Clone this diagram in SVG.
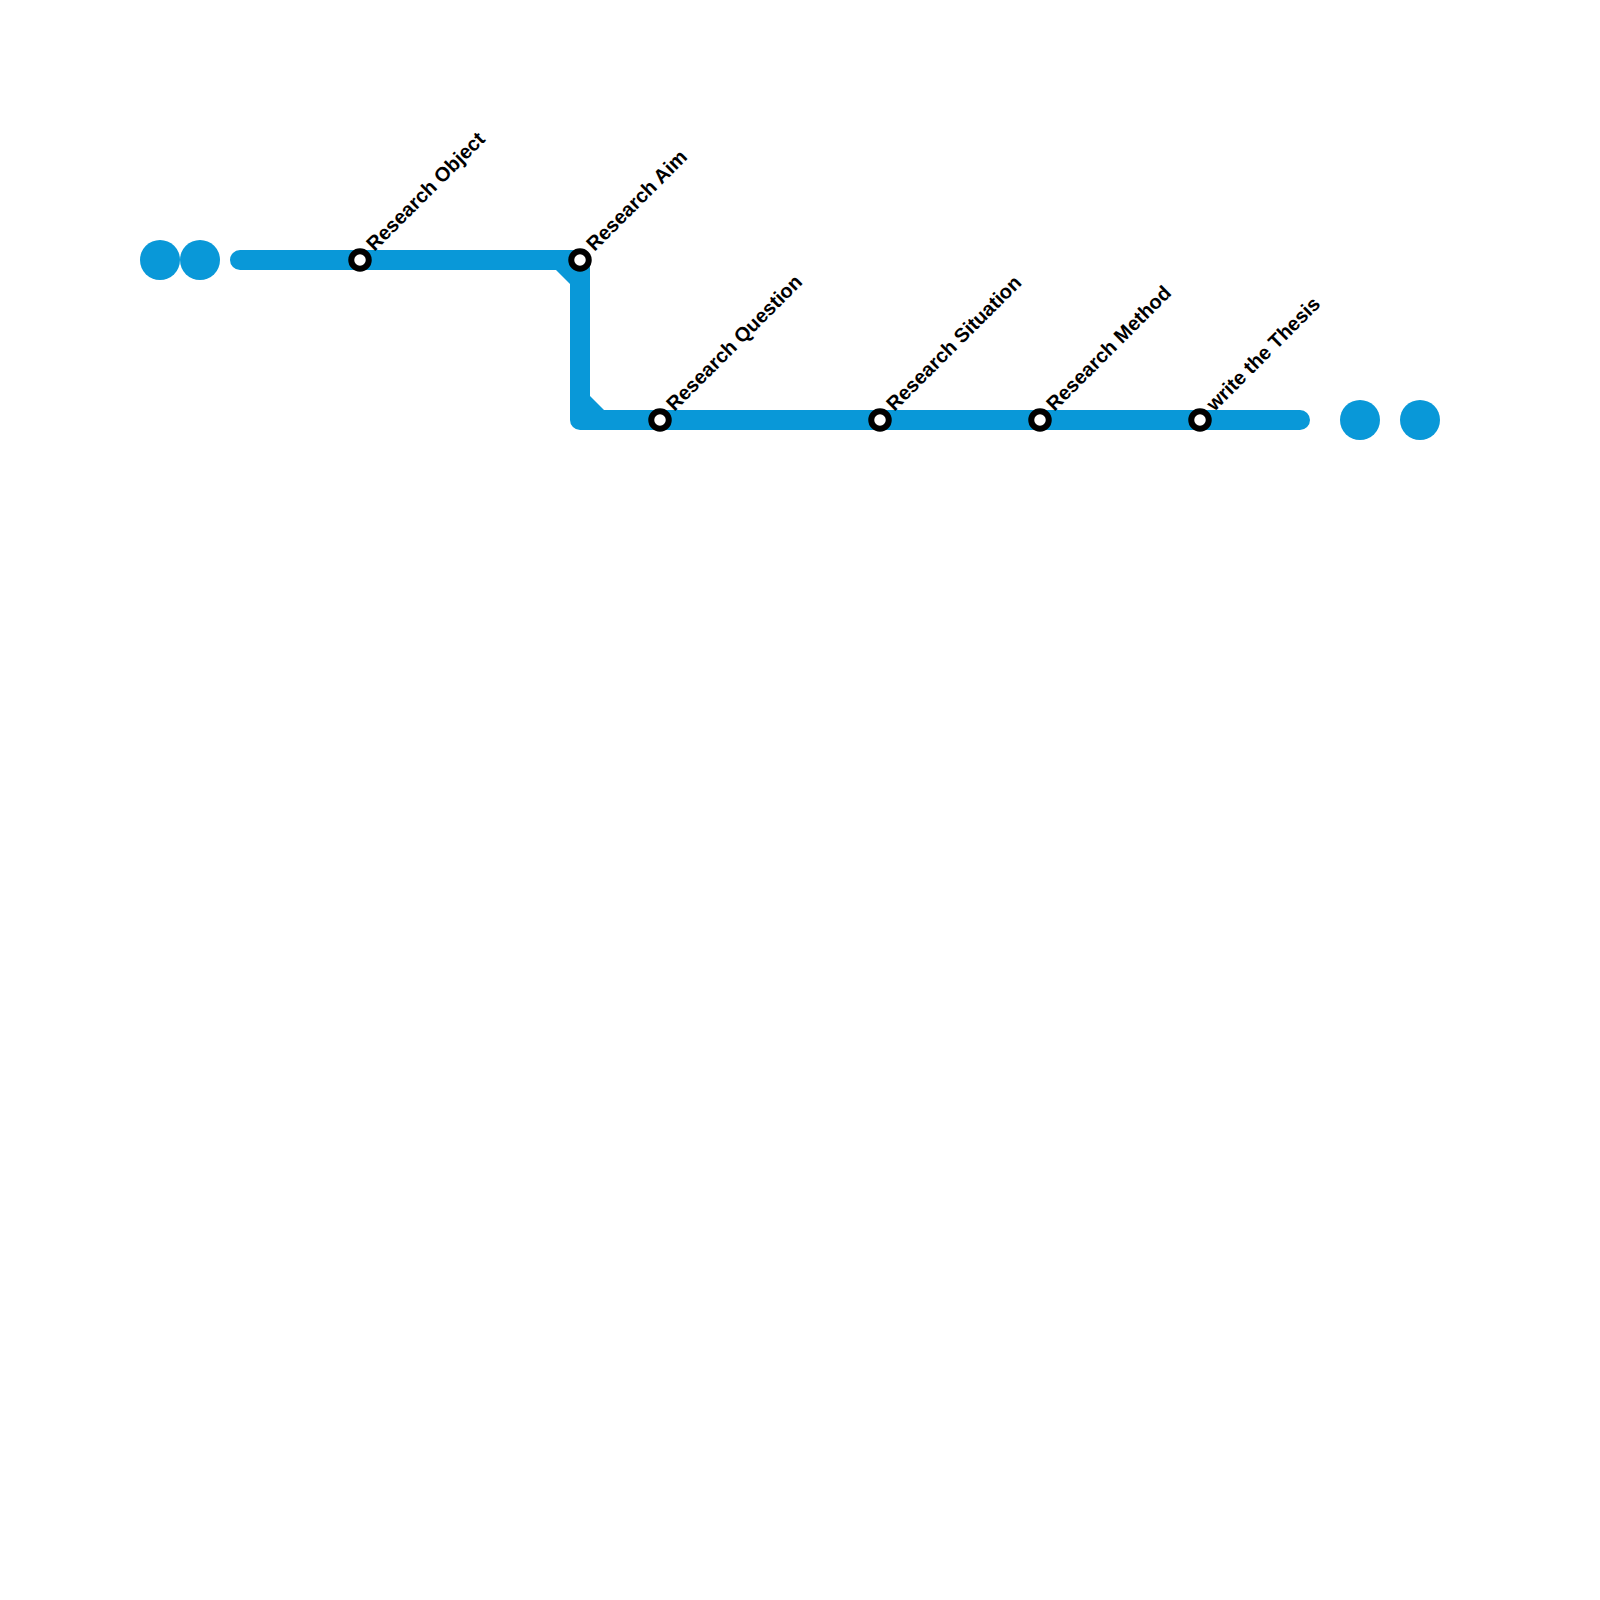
<svg xmlns="http://www.w3.org/2000/svg" width="1600" height="1600" viewBox="0 0 1600 1600">
<style>
.line{fill:none;stroke:#0998d8;stroke-width:20;stroke-linecap:round;stroke-linejoin:round}
.fillet{fill:#0998d8}
.term{fill:#0998d8}
.stn{fill:#fff;stroke:#000;stroke-width:6}
.lbl{font-family:"Liberation Sans",Arial,sans-serif;font-weight:bold;font-size:20px;fill:#000}
</style>
<rect width="1600" height="1600" fill="#fff"/>
<g id="connectors">
<path class="line" d="M240 260H580V420H1300"/>
<polygon class="fillet" points="556,270 570,270 570,284"/>
<polygon class="fillet" points="590,396 590,410 604,410"/>
</g>
<g id="start-dot-1"><circle class="term" cx="160" cy="260" r="20"/></g>
<g id="start-dot-2"><circle class="term" cx="200" cy="260" r="20"/></g>
<g id="end-dot-1"><circle class="term" cx="1360" cy="420" r="20"/></g>
<g id="end-dot-2"><circle class="term" cx="1420" cy="420" r="20"/></g>
<g id="research-object"><circle class="stn" cx="360" cy="260" r="8.75"/><text class="lbl" transform="translate(374.500 252) rotate(-45)">Research Object</text></g>
<g id="research-aim"><circle class="stn" cx="580" cy="260" r="8.75"/><text class="lbl" transform="translate(594.500 252) rotate(-45)">Research Aim</text></g>
<g id="research-question"><circle class="stn" cx="660" cy="420" r="8.75"/><text class="lbl" transform="translate(674.500 412) rotate(-45)">Research Question</text></g>
<g id="research-situation"><circle class="stn" cx="880" cy="420" r="8.75"/><text class="lbl" transform="translate(894.500 412) rotate(-45)">Research Situation</text></g>
<g id="research-method"><circle class="stn" cx="1040" cy="420" r="8.75"/><text class="lbl" transform="translate(1054.500 412) rotate(-45)">Research Method</text></g>
<g id="write-the-thesis"><circle class="stn" cx="1200" cy="420" r="8.75"/><text class="lbl" transform="translate(1214.500 412) rotate(-45)">write the Thesis</text></g>
</svg>
